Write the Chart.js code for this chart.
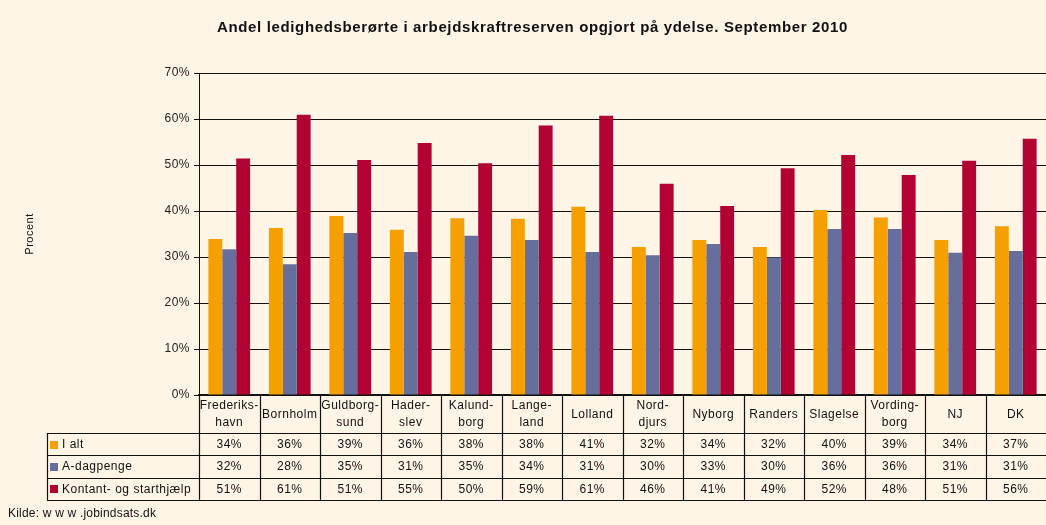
<!DOCTYPE html>
<html>
<head>
<meta charset="utf-8">
<script src="https://cdn.jsdelivr.net/npm/chart.js@4/dist/chart.umd.min.js"></script>
<style>
  html, body { margin: 0; padding: 0; background: #FEF5E7; }
  #wrap { width: 1046px; height: 525px; position: relative; }
</style>
</head>
<body>
<div id="wrap"><canvas id="c" width="1046" height="525"></canvas></div>
<script>
const titleText = 'Andel ledighedsberørte i arbejdskraftreserven opgjort på ydelse. September 2010';
const sourceText = 'Kilde: w w w .jobindsats.dk';
const yTitle = 'Procent';
const categories = [
  ['Frederiks-', 'havn'], 'Bornholm', ['Guldborg-', 'sund'], ['Hader-', 'slev'],
  ['Kalund-', 'borg'], ['Lange-', 'land'], 'Lolland', ['Nord-', 'djurs'],
  'Nyborg', 'Randers', 'Slagelse', ['Vording-', 'borg'], 'NJ', 'DK'
];
const seriesNames = ['I alt', 'A-dagpenge', 'Kontant- og starthjælp'];
const iAlt      = [33.9, 36.3, 38.9, 35.9, 38.4, 38.3, 40.9, 32.2, 33.7, 32.2, 40.2, 38.6, 33.7, 36.7];
const aDagpenge = [31.7, 28.4, 35.2, 31.1, 34.6, 33.7, 31.1, 30.4, 32.8, 29.9, 36.1, 36.1, 30.9, 31.3];
const kontant   = [51.4, 60.9, 51.1, 54.8, 50.4, 58.6, 60.7, 45.9, 41.1, 49.3, 52.2, 47.8, 50.9, 55.7];
const yTicks = [0, 10, 20, 30, 40, 50, 60, 70];

const colors = ['#F5A000', '#666E9B', '#B20233'];
const BG = '#FEF5E7';
const FONT = 'Arial, "Liberation Sans", sans-serif';
const SPACING = '0.5px';

const spacingPlugin = {
  id: 'spacing',
  beforeUpdate(chart) { chart.ctx.letterSpacing = SPACING; },
  beforeDraw(chart) { chart.ctx.letterSpacing = SPACING; }
};

const bgPlugin = {
  id: 'bg',
  beforeDraw(chart) {
    const ctx = chart.ctx;
    ctx.save();
    ctx.fillStyle = BG;
    ctx.fillRect(0, 0, chart.width, chart.height);
    ctx.restore();
  }
};

const titlePlugin = {
  id: 'customTitle',
  afterDraw(chart) {
    const ctx = chart.ctx;
    ctx.save();
    ctx.font = 'bold 15px ' + FONT;
    ctx.letterSpacing = '0px';
    const w = ctx.measureText(titleText).width;
    const target = 631;
    const ls = Math.max(0, (target - w) / titleText.length);
    ctx.letterSpacing = ls + 'px';
    ctx.fillStyle = '#111';
    ctx.textAlign = 'left';
    ctx.textBaseline = 'middle';
    ctx.fillText(titleText, 532.5 - target / 2, 28);
    ctx.restore();
  }
};

const tablePlugin = {
  id: 'dataTable',
  afterDraw(chart) {
    const ctx = chart.ctx;
    const xs = chart.scales.x;
    const area = chart.chartArea;
    const rowH = 22.3;
    const headBottom = xs.bottom;
    const tableBottom = headBottom + rowH * 3;
    const legendLeft = 47;
    const catW = (area.right - area.left) / categories.length;
    ctx.save();
    ctx.letterSpacing = SPACING;
    ctx.strokeStyle = '#111';
    ctx.lineWidth = 1.2;
    for (let r = 0; r <= 3; r++) {
      const y = Math.round(headBottom + rowH * r) + 0.5;
      ctx.beginPath();
      ctx.moveTo(legendLeft, y);
      ctx.lineTo(area.right, y);
      ctx.stroke();
    }
    for (let i = 0; i < categories.length; i++) {
      const x = Math.round(xs.getPixelForValue(i) - catW / 2) + 0.5;
      ctx.beginPath();
      ctx.moveTo(x, area.bottom);
      ctx.lineTo(x, tableBottom);
      ctx.stroke();
    }
    ctx.beginPath();
    ctx.moveTo(legendLeft + 0.5, headBottom);
    ctx.lineTo(legendLeft + 0.5, tableBottom);
    ctx.stroke();

    const series = chart.data.datasets;
    ctx.font = '12px ' + FONT;
    ctx.textBaseline = 'middle';
    series.forEach((ds, r) => {
      const yc = headBottom + rowH * r + rowH / 2 + 0.5;
      ctx.fillStyle = ds.backgroundColor;
      ctx.fillRect(50, Math.round(yc - 4), 8, 8);
      ctx.fillStyle = '#111';
      ctx.textAlign = 'left';
      ctx.fillText(ds.label, 62, yc);
      ctx.textAlign = 'center';
      ds.data.forEach((v, i) => {
        ctx.fillText(Math.round(v) + '%', xs.getPixelForValue(i), yc);
      });
    });

    ctx.textAlign = 'left';
    ctx.font = '12px ' + FONT;
    ctx.letterSpacing = '0.2px';
    ctx.fillStyle = '#111';
    ctx.fillText(sourceText, 8, 514);
    ctx.restore();
  }
};

new Chart(document.getElementById('c'), {
  type: 'bar',
  data: {
    labels: categories,
    datasets: [
      { label: seriesNames[0], data: iAlt, backgroundColor: colors[0] },
      { label: seriesNames[1], data: aDagpenge, backgroundColor: colors[1] },
      { label: seriesNames[2], data: kontant, backgroundColor: colors[2] }
    ]
  },
  options: {
    responsive: false,
    animation: false,
    devicePixelRatio: 1,
    layout: { padding: { left: 18, right: 0, top: 73, bottom: 92 } },
    datasets: { bar: { categoryPercentage: 0.69, barPercentage: 1.0, borderWidth: 0 } },
    plugins: {
      legend: { display: false },
      tooltip: { enabled: false },
      title: { display: false }
    },
    scales: {
      x: {
        offset: true,
        grid: { display: false },
        border: { display: true, color: '#111', width: 2 },
        ticks: {
          color: '#111',
          font: { family: FONT, size: 12, lineHeight: 1.375 },
          maxRotation: 0, minRotation: 0, autoSkip: false,
          padding: 3,
          crossAlign: 'center'
        },
        afterFit(scale) { scale.height = 38; }
      },
      y: {
        min: 0, max: 70,
        afterBuildTicks(scale) { scale.ticks = yTicks.map(v => ({ value: v })); },
        grid: { color: '#111', lineWidth: 1, tickLength: 5, drawTicks: true },
        border: { display: true, color: '#111', width: 1 },
        ticks: {
          color: '#222',
          font: { family: FONT, size: 12 },
          padding: 4,
          callback: v => v + '%'
        },
        title: {
          display: true,
          text: yTitle,
          color: '#111',
          font: { family: FONT, size: 11 },
          padding: { top: 5, bottom: 0 }
        },
        afterFit(scale) { scale.width = 181; }
      }
    }
  },
  plugins: [spacingPlugin, bgPlugin, titlePlugin, tablePlugin]
});
</script>
</body>
</html>
